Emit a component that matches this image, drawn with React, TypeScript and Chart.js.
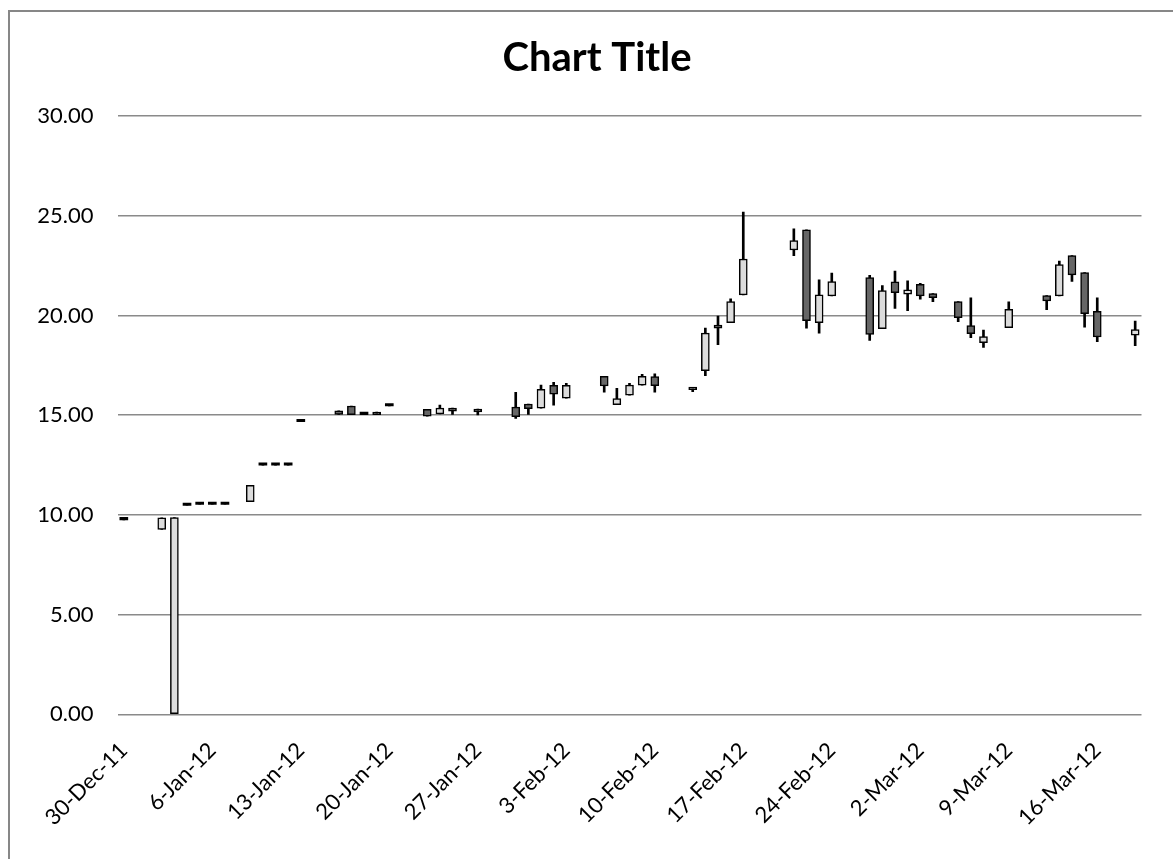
import React, { useEffect, useRef } from 'react';
import { Chart, registerables } from 'chart.js';

Chart.register(...registerables);

// ---- data ----
const dates = [
  '2011-12-30', '2012-01-02', '2012-01-03', '2012-01-04', '2012-01-05', '2012-01-06', '2012-01-07',
  '2012-01-09', '2012-01-10', '2012-01-11', '2012-01-12', '2012-01-13',
  '2012-01-16', '2012-01-17', '2012-01-18', '2012-01-19', '2012-01-20',
  '2012-01-23', '2012-01-24', '2012-01-25', '2012-01-27',
  '2012-01-30', '2012-01-31', '2012-02-01', '2012-02-02', '2012-02-03',
  '2012-02-06', '2012-02-07', '2012-02-08', '2012-02-09', '2012-02-10',
  '2012-02-13', '2012-02-14', '2012-02-15', '2012-02-16', '2012-02-17',
  '2012-02-21', '2012-02-22', '2012-02-23', '2012-02-24',
  '2012-02-27', '2012-02-28', '2012-02-29', '2012-03-01', '2012-03-02', '2012-03-03',
  '2012-03-05', '2012-03-06', '2012-03-07', '2012-03-09',
  '2012-03-12', '2012-03-13', '2012-03-14', '2012-03-15', '2012-03-16',
  '2012-03-19',
];

const opens = [
  9.75, 9.27, 0, 10.47, 10.52, 10.52, 10.52,
  10.66, 12.49, 12.49, 12.49, 14.67,
  15.22, 15.46, 15.03, 15.16, 15.46,
  15.29, 15.06, 15.36, 15.31,
  15.4, 15.56, 15.35, 16.5, 15.85,
  16.95, 15.53, 16.0, 16.5, 16.93,
  16.4, 17.23, 19.52, 19.64, 21.03,
  23.28, 24.29, 19.64, 20.98,
  21.9, 19.34, 21.69, 21.06, 21.56, 21.1,
  20.69, 19.49, 18.64, 19.39,
  20.99, 20.98, 23.0, 22.15, 20.21,
  19.01,
];

const highs = [
  9.75, 9.85, 9.86, 10.47, 10.52, 10.52, 10.52,
  11.48, 12.49, 12.49, 12.49, 14.67,
  15.22, 15.46, 15.03, 15.16, 15.46,
  15.29, 15.51, 15.36, 15.31,
  16.15, 15.56, 16.51, 16.65, 16.6,
  16.95, 16.35, 16.6, 17.05, 17.07,
  16.4, 19.36, 19.97, 20.83, 25.18,
  24.34, 24.29, 21.78, 22.12,
  22.01, 21.5, 22.22, 21.73, 21.61, 21.1,
  20.69, 20.88, 19.27, 20.68,
  20.99, 22.73, 23.0, 22.15, 20.88,
  19.72,
];

const lows = [
  9.75, 9.27, 0, 10.47, 10.52, 10.52, 10.52,
  10.66, 12.49, 12.49, 12.49, 14.67,
  15.04, 15.03, 15.03, 15.03, 15.46,
  14.95, 15.06, 15.04, 15.01,
  14.83, 15.04, 15.35, 15.5, 15.85,
  16.15, 15.53, 16.0, 16.5, 16.15,
  16.18, 16.98, 18.54, 19.64, 21.03,
  23.0, 19.36, 19.11, 20.98,
  18.75, 19.34, 20.35, 20.24, 20.81, 20.69,
  19.69, 18.89, 18.4, 19.39,
  20.29, 20.98, 21.7, 19.41, 18.69,
  18.49,
];

const closes = [
  9.75, 9.85, 9.86, 10.47, 10.52, 10.52, 10.52,
  11.48, 12.49, 12.49, 12.49, 14.67,
  15.04, 15.03, 15.03, 15.03, 15.46,
  14.95, 15.35, 15.2, 15.16,
  14.93, 15.33, 16.3, 16.05, 16.5,
  16.46, 15.83, 16.51, 16.95, 16.48,
  16.28, 19.11, 19.36, 20.69, 22.83,
  23.75, 19.74, 21.03, 21.7,
  19.05, 21.24, 21.14, 21.29, 20.98, 20.89,
  19.89, 19.09, 18.94, 20.31,
  20.73, 22.55, 22.03, 20.09, 18.92,
  19.29,
];

const tickDates = [
  '2011-12-30', '2012-01-06', '2012-01-13', '2012-01-20', '2012-01-27', '2012-02-03',
  '2012-02-10', '2012-02-17', '2012-02-24', '2012-03-02', '2012-03-09', '2012-03-16',
];
const tickLabels = [
  '30-Dec-11', '6-Jan-12', '13-Jan-12', '20-Jan-12', '27-Jan-12', '3-Feb-12',
  '10-Feb-12', '17-Feb-12', '24-Feb-12', '2-Mar-12', '9-Mar-12', '16-Mar-12',
];
const axisStart = '2011-12-30';
const axisEnd = '2012-03-19';
const yMin = 0;
const yMax = 30;
const yStep = 5;

const FONT = 'Lato, "Open Sans", sans-serif';
const UP_COLOR = '#dcdcdc';
const DOWN_COLOR = '#666666';

function dayIndex(d: string): number {
  const [y, m, dd] = d.split('-').map(Number);
  const [y0, m0, d0] = axisStart.split('-').map(Number);
  return Math.round((Date.UTC(y, m - 1, dd) - Date.UTC(y0, m0 - 1, d0)) / 86400000);
}

// centre the title on the whole (wider) chart frame rather than the canvas
const titleCenterPlugin = {
  id: 'titleCenter',
  afterLayout(chart: any) {
    const t = chart.titleBlock;
    if (t) {
      t.left = 52.5;
      t.right = chart.chartArea.right;
      t.width = t.right - t.left;
    }
  },
};

export default function App() {
  const ref = useRef<HTMLCanvasElement | null>(null);

  useEffect(() => {
    if (!ref.current) return;
    const wickData = dates.map((d, i) => ({ x: dayIndex(d), y: [lows[i], highs[i]] }));
    const bodyData = dates.map((d, i) => ({ x: dayIndex(d), y: [opens[i], closes[i]] }));
    const isFlat = dates.map((_, i) => opens[i] === closes[i]);
    const bodyColors = dates.map((_, i) =>
      isFlat[i] ? '#000000' : closes[i] >= opens[i] ? UP_COLOR : DOWN_COLOR
    );
    const bodyBorders = dates.map((_, i) => (isFlat[i] ? 0 : 1.5));
    const tickPositions = tickDates.map(dayIndex);

    const chart = new Chart(ref.current, {
      type: 'bar',
      data: {
        datasets: [
          {
            label: 'Body',
            data: bodyData as any,
            backgroundColor: bodyColors,
            borderColor: '#000000',
            borderWidth: bodyBorders,
            borderSkipped: false,
            barThickness: 8,
            minBarLength: 2.5,
            grouped: false,
            order: 1,
          } as any,
          {
            label: 'Wick',
            data: wickData as any,
            backgroundColor: '#000000',
            borderWidth: 0,
            barThickness: 2,
            grouped: false,
            order: 2,
          } as any,
        ],
      },
      plugins: [titleCenterPlugin],
      options: {
        animation: false,
        responsive: false,
        devicePixelRatio: 1,
        layout: { padding: { left: 0, right: 31.5, top: 0, bottom: 0 } },
        plugins: {
          legend: { display: false },
          tooltip: { enabled: false },
          title: {
            display: true,
            text: 'Chart Title',
            color: '#000000',
            font: { family: FONT, size: 40, weight: 'bold', lineHeight: 1.2 },
            padding: { top: 34, bottom: 34 },
          },
        },
        scales: {
          x: {
            type: 'linear',
            min: dayIndex(axisStart) - 0.5,
            max: dayIndex(axisEnd) + 0.5,
            offset: false,
            grid: { display: false, drawTicks: false },
            border: { display: false },
            afterBuildTicks: (ax: any) => {
              ax.ticks = tickPositions.map((v) => ({ value: v }));
            },
            afterFit: (ax: any) => {
              ax.height = 144.7;
            },
            ticks: {
              autoSkip: false,
              minRotation: 45,
              maxRotation: 45,
              padding: 23,
              color: '#000000',
              font: { family: FONT, size: 22 },
              callback: (_v: any, idx: number) => tickLabels[idx],
            },
          },
          y: {
            min: yMin,
            max: yMax,
            grid: { color: '#8a8a8a', lineWidth: 1.5, drawTicks: false },
            border: { display: false },
            afterFit: (ax: any) => {
              ax.width = 117.5;
            },
            ticks: {
              stepSize: yStep,
              padding: 24,
              color: '#000000',
              font: { family: FONT, size: 22 },
              callback: (v: any) => Number(v).toFixed(2),
            },
          },
        },
      },
    });
    return () => chart.destroy();
  }, []);

  return (
    <>
      <div
        style={{
          position: 'fixed',
          left: 8,
          top: 10,
          width: 1300,
          height: 1000,
          border: '2px solid #878787',
          boxSizing: 'border-box',
          background: '#ffffff',
        }}
      />
      <canvas
        ref={ref}
        width={1173}
        height={859}
        style={{ position: 'fixed', left: 0, top: 0, width: 1173, height: 859 }}
      />
    </>
  );
}
